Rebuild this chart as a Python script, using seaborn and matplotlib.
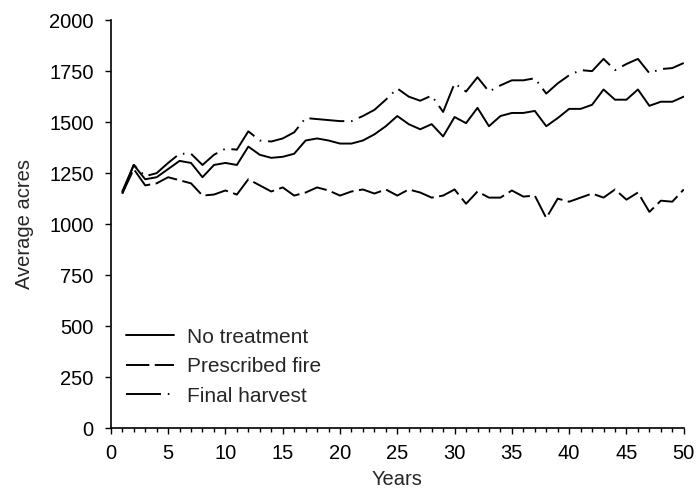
import numpy as np
import pandas as pd
import matplotlib
matplotlib.use("Agg")
import matplotlib.pyplot as plt
import seaborn as sns

years = list(range(1, 51))
no_treatment = [1160, 1290, 1220, 1230, 1270, 1310, 1300, 1230, 1290, 1300,
                1290, 1380, 1340, 1325, 1330, 1345, 1410, 1420, 1410, 1395,
                1395, 1410, 1440, 1480, 1530, 1490, 1465, 1490, 1430, 1525,
                1495, 1570, 1480, 1530, 1545, 1545, 1555, 1480, 1520, 1565,
                1565, 1585, 1660, 1610, 1610, 1660, 1580, 1600, 1600, 1625]
prescribed_fire = [1150, 1270, 1190, 1200, 1230, 1215, 1200, 1140, 1145, 1165,
                   1145, 1220, 1190, 1160, 1180, 1140, 1155, 1180, 1165, 1140,
                   1160, 1170, 1150, 1170, 1140, 1170, 1155, 1130, 1140, 1170,
                   1100, 1160, 1130, 1130, 1165, 1135, 1140, 1030, 1125, 1110,
                   1130, 1150, 1130, 1170, 1120, 1155, 1060, 1115, 1110, 1170]
final_harvest = [1150, 1290, 1235, 1250, 1300, 1345, 1345, 1290, 1340, 1370,
                 1365, 1455, 1410, 1405, 1420, 1450, 1520, 1515, 1510, 1505,
                 1505, 1530, 1560, 1610, 1665, 1625, 1605, 1630, 1550, 1690,
                 1650, 1720, 1650, 1680, 1705, 1705, 1715, 1640, 1690, 1730,
                 1755, 1750, 1810, 1755, 1785, 1810, 1740, 1760, 1765, 1790]
series_names = ["No treatment", "Prescribed fire", "Final harvest"]

df = pd.concat([
    pd.DataFrame({"Years": years, "acres": vals, "Treatment": name})
    for name, vals in zip(series_names, [no_treatment, prescribed_fire, final_harvest])
])

sns.set_style("ticks")
plt.rcParams["font.family"] = ["Liberation Sans", "DejaVu Sans"]
FS_TICK = 14.5
FS_LAB = 14.5
FS_LEG = 15

fig = plt.figure(figsize=(6.97, 4.91), dpi=100)
ax = fig.add_axes([0.159, 0.128, 0.822, 0.831])

sns.lineplot(data=df, x="Years", y="acres", hue="Treatment", style="Treatment",
             palette={n: "black" for n in series_names},
             dashes={"No treatment": "", "Prescribed fire": (12, 2.8),
                     "Final harvest": (18, 3.5, 0.8, 3.5)},
             linewidth=1.4, ax=ax)

ax.set_xlim(0, 50)
ax.set_ylim(0, 2000)
ax.set_xticks(np.arange(0, 51, 5))
ax.set_xticks(np.arange(0, 51, 1), minor=True)
ax.set_yticks(np.arange(0, 2001, 250))
ax.tick_params(axis="both", which="major", labelsize=FS_TICK, length=4.3, width=1,
               color="black", labelcolor="black", pad=7)
ax.tick_params(axis="y", which="major", pad=8)
ax.tick_params(axis="x", which="minor", length=3, width=1, color="black")
ax.set_xlabel("Years", fontsize=FS_LAB, labelpad=5.5)
ax.set_ylabel("Average acres", fontsize=FS_LAB, labelpad=11)
for s in ["left", "bottom"]:
    ax.spines[s].set_linewidth(1.2)
    ax.spines[s].set_color("black")
sns.despine(ax=ax)

leg = ax.legend(title=None, loc="lower left", bbox_to_anchor=(0.012, 0.035),
                borderaxespad=0, frameon=False, fontsize=FS_LEG,
                handlelength=2.3, labelspacing=0.5, handletextpad=0.62)

fig.savefig("out.png", dpi=100)
